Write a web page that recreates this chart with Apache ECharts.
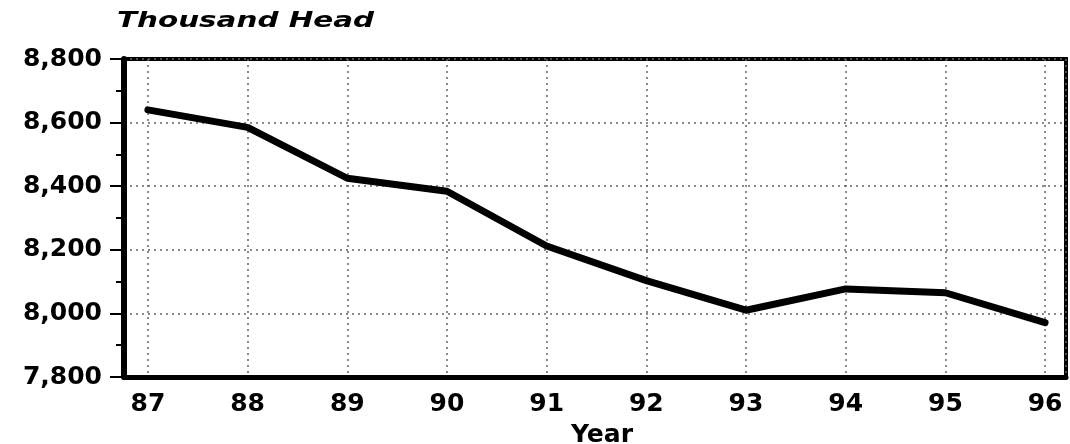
<!DOCTYPE html>
<html>
<head>
<meta charset="utf-8">
<script src="https://cdn.jsdelivr.net/npm/echarts@6/dist/echarts.min.js"></script>
<style>
html,body{margin:0;padding:0;background:#fff;}
#chart{width:1070px;height:444px;}
</style>
</head>
<body>
<div id="chart"></div>
<script>
const years = [87, 88, 89, 90, 91, 92, 93, 94, 95, 96];
const headCount = [8640, 8585, 8425, 8384, 8212, 8103, 8010, 8077, 8065, 7971];
const yTitle = 'Thousand Head';
const xTitle = 'Year';

const seriesData = years.map((y, i) => [y, headCount[i]]);
const FONT = '"DejaVu Sans", "Liberation Sans", sans-serif';

const chart = echarts.init(document.getElementById('chart'), null, {renderer: 'canvas'});
chart.setOption({
  animation: false,
  backgroundColor: '#ffffff',
  graphic: [{
    type: 'text',
    left: 117,
    top: 11,
    scaleX: 1.4,
    style: {
      text: yTitle,
      fontFamily: FONT, fontSize: 21, fontWeight: 'bold', fontStyle: 'italic',
      fill: '#000'
    }
  }],
  grid: {
    left: 124, right: 4, top: 59, bottom: 67,
    containLabel: false,
    outerBoundsMode: 'none',
    show: true, borderColor: '#000', borderWidth: 4, backgroundColor: 'transparent'
  },
  xAxis: {
    type: 'value',
    min: 86.76,
    max: 96.21,
    minInterval: 1,
    maxInterval: 1,
    name: xTitle,
    nameLocation: 'middle',
    nameGap: 46,
    nameTextStyle: {fontFamily: FONT, fontSize: 25, fontWeight: 'bold', color: '#000', padding: [0, 0, 0, 14]},
    axisLine: {show: true, lineStyle: {color: '#000', width: 5}},
    axisTick: {show: false},
    axisLabel: {
      margin: 15,
      fontFamily: FONT, fontSize: 25, fontWeight: 'bold', color: '#000',
      formatter: v => Math.abs(v - Math.round(v)) < 1e-6 ? String(Math.round(v)) : '',
      showMinLabel: false, showMaxLabel: false
    },
    splitLine: {show: true, lineStyle: {color: '#666', type: [2, 4], width: 1.5}}
  },
  yAxis: {
    type: 'value',
    min: 7800,
    max: 8800,
    interval: 200,
    axisLine: {show: true, lineStyle: {color: '#000', width: 6}},
    axisTick: {show: true, length: 14, lineStyle: {color: '#000', width: 2}},
    minorTick: {show: true, splitNumber: 2, length: 8, lineStyle: {color: '#000', width: 2}},
    axisLabel: {
      margin: 22,
      fontFamily: FONT, fontSize: 25, fontWeight: 'bold', color: '#000',
      formatter: v => v.toLocaleString('en-US')
    },
    splitLine: {show: true, lineStyle: {color: '#666', type: [2, 4], width: 1.5}}
  },
  series: [{
    type: 'line',
    data: seriesData,
    showSymbol: false,
    symbol: 'none',
    lineStyle: {color: '#000', width: 7, cap: 'round', join: 'round'},
    z: 5
  }]
});
</script>
</body>
</html>
